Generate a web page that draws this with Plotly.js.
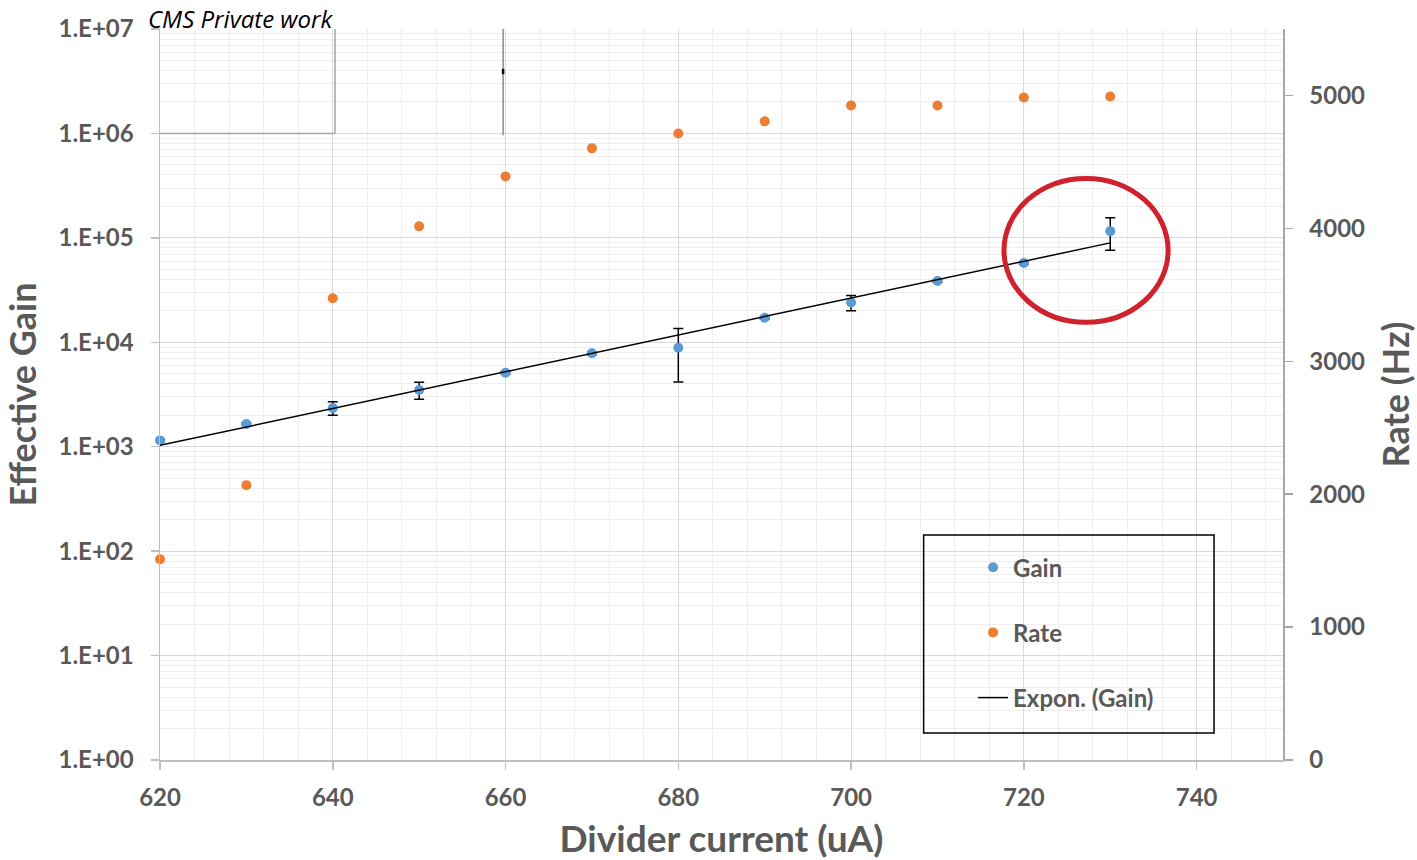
<!DOCTYPE html>
<html>
<head>
<meta charset="utf-8">
<script src="https://cdn.plot.ly/plotly-3.0.1.min.js"></script>
<style>html,body{margin:0;padding:0;background:#fff;}#chart{width:1417px;height:860px;}</style>
</head>
<body>
<div id="chart"></div>
<script>
// ---- data ----
const current = [620, 630, 640, 650, 660, 670, 680, 690, 700, 710, 720, 730];
const gain = [1150, 1650, 2350, 3490, 5110, 7840, 8870, 17200, 24000, 38600, 57400, 116000];
const gainErr = [30, 45, 350, 650, 150, 220, 4700, 450, 4000, 1000, 1600, 40000];
const rate = [1510, 2068, 3474, 4015, 4391, 4602, 4714, 4805, 4925, 4925, 4985, 4992];
const fitX = [620, 730];
const fitY = [1030, 89500];
const gainTickVals = [1, 10, 100, 1000, 10000, 100000, 1000000, 10000000];
const gainTickText = ['1.E+00', '1.E+01', '1.E+02', '1.E+03', '1.E+04', '1.E+05', '1.E+06', '1.E+07'];
const rateTickVals = [0, 1000, 2000, 3000, 4000, 5000];

const TXT = '#595959';
const FONT = 'Lato, "Open Sans", sans-serif';

const traces = [
  {
    x: current, y: gain, name: 'Gain', type: 'scatter', mode: 'markers',
    legendgroup: 'g1', cliponaxis: false,
    marker: {color: '#5b9bd5', size: 10},
    error_y: {type: 'data', array: gainErr, visible: true, color: '#000000', thickness: 1.5, width: 5}
  },
  {
    x: current, y: rate, name: 'Rate', type: 'scatter', mode: 'markers', yaxis: 'y2',
    legendgroup: 'g2', cliponaxis: false,
    marker: {color: '#ed7d31', size: 10}
  },
  {
    x: fitX, y: fitY, name: 'Expon. (Gain)', type: 'scatter', mode: 'lines',
    legendgroup: 'g3',
    line: {color: '#000000', width: 1.5}
  }
];

const layout = {
  width: 1417, height: 860,
  margin: {l: 160, r: 134, t: 29, b: 100, pad: 0},
  paper_bgcolor: '#ffffff', plot_bgcolor: '#ffffff',
  font: {family: FONT, color: TXT},
  showlegend: true,
  legend: {
    x: 0.724, xanchor: 'left', y: 0.294, yanchor: 'top',
    bgcolor: 'rgba(0,0,0,0)', borderwidth: 0,
    traceorder: 'grouped', tracegroupgap: 31,
    font: {family: FONT, size: 24, color: TXT, weight: 700}
  },
  xaxis: {
    range: [620, 750], dtick: 20, tick0: 620,
    showgrid: true, gridcolor: '#d9d9d9', gridwidth: 1,
    minor: {dtick: 4, tick0: 620, showgrid: true, gridcolor: '#eeeeee', gridwidth: 1},
    showline: true, linecolor: '#bfbfbf', linewidth: 1.5,
    ticks: 'outside', ticklen: 8, tickcolor: '#bfbfbf', tickwidth: 1.5,
    ticklabelstandoff: 8,
    tickfont: {family: FONT, size: 24, color: TXT, weight: 700},
    zeroline: false,
    title: {text: 'Divider current (uA)', standoff: 18, font: {family: FONT, size: 37, color: TXT, weight: 700}}
  },
  yaxis: {
    type: 'log', range: [0, 7],
    tickvals: gainTickVals, ticktext: gainTickText,
    showgrid: true, gridcolor: '#d9d9d9', gridwidth: 1,
    minor: {dtick: 'D1', showgrid: true, gridcolor: '#eeeeee', gridwidth: 1},
    showline: true, linecolor: '#bfbfbf', linewidth: 1.5,
    ticks: 'outside', ticklen: 8, tickcolor: '#bfbfbf', tickwidth: 1.5,
    ticklabelstandoff: 12,
    tickfont: {family: FONT, size: 24, color: TXT, weight: 700},
    zeroline: false,
    title: {text: 'Effective Gain', standoff: 12, font: {family: FONT, size: 36, color: TXT, weight: 700}}
  },
  yaxis2: {
    overlaying: 'y', side: 'right', range: [0, 5500],
    tickvals: rateTickVals,
    showgrid: false, zeroline: false,
    showline: true, linecolor: '#a6a6a6', linewidth: 1.5,
    ticks: 'outside', ticklen: 8, tickcolor: '#a6a6a6', tickwidth: 1.5,
    ticklabelstandoff: 12,
    tickfont: {family: FONT, size: 24, color: TXT, weight: 700},
    title: {text: 'Rate (Hz)', standoff: 20, font: {family: FONT, size: 36, color: TXT, weight: 700}}
  },
  shapes: [
    // legend box
    {type: 'rect', xref: 'paper', yref: 'paper', x0: 0.680, x1: 0.9386, y0: 0.0369, y1: 0.3078,
     line: {color: '#000000', width: 1.5}, fillcolor: 'rgba(255,255,255,0)', layer: 'above'},
    // red highlight ellipse
    {type: 'circle', xref: 'x', yref: 'y2', x0: 717.7, x1: 736.7, y0: 3293, y1: 4376,
     line: {color: '#d0222c', width: 5}, layer: 'above'},
    // pasted-image edge artefacts at the top left
    {type: 'line', xref: 'x', yref: 'y2', x0: 640.26, x1: 640.26, y0: 4714, y1: 5500,
     line: {color: '#a6a6a6', width: 1.5}},
    {type: 'line', xref: 'x', yref: 'y2', x0: 620, x1: 640.26, y0: 4714, y1: 4714,
     line: {color: '#a6a6a6', width: 1.5}},
    {type: 'line', xref: 'x', yref: 'y2', x0: 659.72, x1: 659.72, y0: 4700, y1: 5500,
     line: {color: '#8c8c8c', width: 1.5}},
    {type: 'line', xref: 'x', yref: 'y2', x0: 659.72, x1: 659.72, y0: 5160, y1: 5200,
     line: {color: '#000000', width: 2.5}}
  ],
  annotations: [
    {text: 'CMS Private work', xref: 'paper', yref: 'paper', x: -0.0125, y: 1.0137,
     xanchor: 'left', yanchor: 'middle', showarrow: false,
     font: {family: '"Open Sans", sans-serif', size: 24, color: '#000000', style: 'italic'}}
  ]
};

Plotly.newPlot('chart', traces, layout, {displayModeBar: false, staticPlot: true});
</script>
</body>
</html>
